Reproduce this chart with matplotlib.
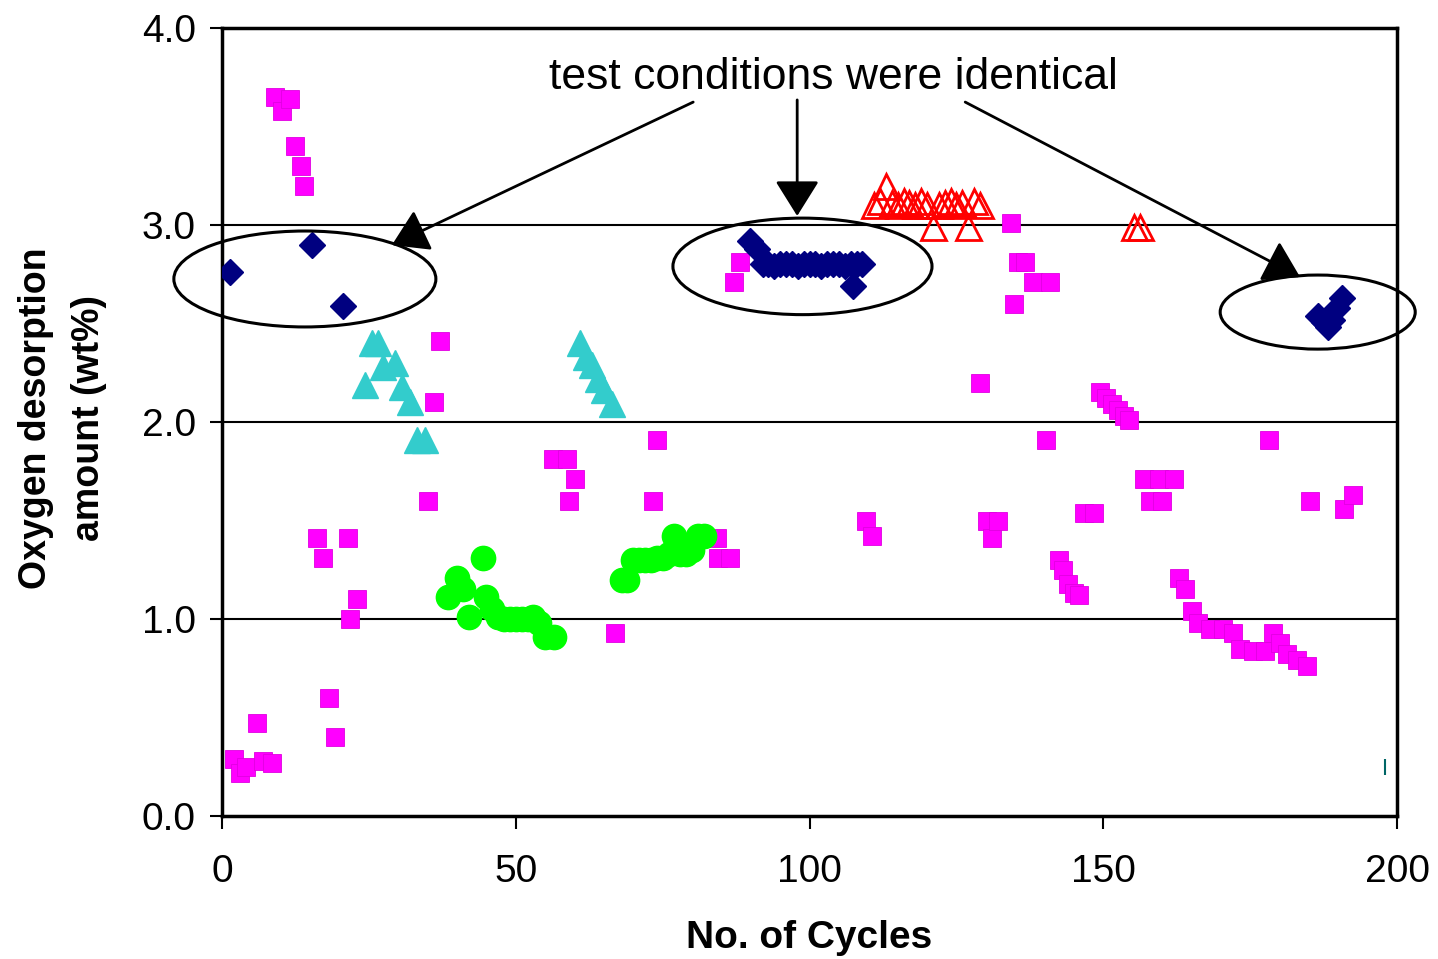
import numpy as np
import matplotlib
matplotlib.use("Agg")
import matplotlib.pyplot as plt
from matplotlib.patches import Ellipse

plt.rcParams['font.family'] = ['Liberation Sans', 'DejaVu Sans']

# magenta squares
mag_x = [2, 3, 4, 6, 7, 8.5,
         9, 10.2, 11.6, 12.4, 13.4, 14.0,
         16.2, 17.2, 18.2, 19.2, 21.5, 21.8, 23.0,
         35.1, 36.1, 37.1,
         56.3, 58.7, 59.1, 60.1, 66.9,
         73.3, 74.0, 84.3, 84.5, 86.5,
         87.1, 88.2, 109.6, 110.6,
         129.0, 130.2, 131.1, 132.1,
         134.3, 134.8, 135.5, 136.7, 138.0, 140.9, 140.3,
         142.5, 143.2, 144.0, 145.0, 145.8, 146.8, 148.5,
         149.5, 150.5, 151.5, 152.5, 153.5, 154.3,
         157, 159.5, 162, 158, 160,
         162.9, 163.9, 165.1, 166.1, 168.2, 170.4, 172.1, 173.3, 175.5, 177.5,
         178.2, 178.9, 180.1, 181.3, 183.0, 184.7,
         185.2, 191.0, 192.5]
mag_y = [0.29, 0.22, 0.25, 0.47, 0.28, 0.27,
         3.65, 3.58, 3.64, 3.40, 3.30, 3.20,
         1.41, 1.31, 0.60, 0.40, 1.41, 1.00, 1.10,
         1.60, 2.10, 2.41,
         1.81, 1.81, 1.60, 1.71, 0.93,
         1.60, 1.91, 1.41, 1.31, 1.31,
         2.71, 2.81, 1.50, 1.42,
         2.20, 1.50, 1.41, 1.50,
         3.01, 2.60, 2.81, 2.81, 2.71, 2.71, 1.91,
         1.30, 1.25, 1.18, 1.13, 1.12, 1.54, 1.54,
         2.15, 2.12, 2.09, 2.06, 2.03, 2.01,
         1.71, 1.71, 1.71, 1.60, 1.60,
         1.21, 1.15, 1.04, 0.98, 0.95, 0.95, 0.93, 0.85, 0.84, 0.84,
         1.91, 0.93, 0.88, 0.82, 0.79, 0.76,
         1.60, 1.56, 1.63]

# navy diamonds
navy_x = [1.4, 15.3, 20.6,
          89.9, 91.0, 92, 93, 94, 95, 96, 97, 98, 99, 100, 101, 102, 103, 104,
          105, 106, 107, 108, 109, 107.4,
          186.5, 187.5, 188.3, 189.0, 189.8, 190.6]
navy_y = [2.76, 2.90, 2.59,
          2.92, 2.88, 2.80, 2.80, 2.79, 2.80, 2.80, 2.80, 2.79, 2.80, 2.80, 2.80, 2.79, 2.80, 2.80,
          2.80, 2.79, 2.80, 2.80, 2.80, 2.69,
          2.54, 2.51, 2.48, 2.52, 2.58, 2.63]

# cyan triangles
cyan_x = [24.3, 25.5, 26.6, 27.4, 29.4, 30.6, 32.0, 33.2, 34.5,
          61, 62, 63, 64, 65, 66.3]
cyan_y = [2.19, 2.40, 2.40, 2.28, 2.30, 2.18, 2.10, 1.91, 1.91,
          2.40, 2.33, 2.29, 2.22, 2.16, 2.09]

# green circles
green_x = [38.5, 40, 41, 42, 44.4, 45, 46, 47, 48, 49, 50, 51, 52, 53, 54, 55, 56.5,
           68, 69, 70, 71, 72, 73, 74, 75, 76, 77, 78, 79, 80, 81, 82]
green_y = [1.11, 1.21, 1.15, 1.01, 1.31, 1.11, 1.05, 1.01, 1.00, 1.00, 1.00, 1.00, 1.00, 1.01, 0.98, 0.91, 0.91,
           1.20, 1.20, 1.30, 1.30, 1.30, 1.30, 1.31, 1.31, 1.33, 1.42, 1.33, 1.33, 1.35, 1.42, 1.42]

# red open triangles
red_x = [111, 112, 113, 114, 115, 116, 117, 118, 119, 120, 121, 122, 123, 124,
         125, 126, 127, 128, 129, 155.2, 156.2]
red_y = [3.10, 3.12, 3.20, 3.11, 3.10, 3.12, 3.11, 3.10, 3.12, 3.10, 2.99, 3.10, 3.11, 3.12,
         3.10, 3.11, 2.99, 3.12, 3.10, 2.99, 2.99]

# stray mark at right edge
teal_x = [198]
teal_y = [0.25]

fig = plt.figure(figsize=(14.38, 9.59), dpi=100)
ax = fig.add_axes([0.1544, 0.1491, 0.8171, 0.8217])

ax.plot(mag_x, mag_y, 's', color='#FF00FF', ms=13.5, mec='#E000E0', mew=0.6, zorder=3)
ax.plot(navy_x, navy_y, 'D', color='#000080', ms=13, mec='#000080', zorder=4)
ax.plot(cyan_x, cyan_y, '^', color='#33CCCC', ms=19, mec='#33CCCC', zorder=4)
ax.plot(green_x, green_y, 'o', color='#00FF00', ms=17.5, mec='#00FF00', zorder=4)
ax.plot(red_x, red_y, '^', mfc='none', mec='#FF0000', mew=2, ms=18, zorder=4)
ax.plot(teal_x, teal_y, '|', color='#006666', ms=12, mew=1.5, zorder=4)

# ellipses round the identical test conditions
for cx, cy, w, h in [(14.1, 2.726, 44.6, 0.487), (98.8, 2.79, 44.1, 0.49), (186.5, 2.558, 33.2, 0.376)]:
    ax.add_patch(Ellipse((cx, cy), w, h, fill=False, ec='black', lw=2.2, zorder=5, clip_on=False))

ax.text(104, 3.75, 'test conditions were identical', fontsize=32, ha='center', va='center', zorder=6)
arrows = [((80.2, 3.624), (28.9, 2.898)), ((97.9, 3.635), (97.9, 3.046)), ((126.5, 3.624), (183.5, 2.736))]
for start, end in arrows:
    ax.annotate('', xy=end, xytext=start,
                arrowprops=dict(arrowstyle='-|>,head_length=0.4,head_width=0.25',
                                mutation_scale=55, lw=2, color='black', shrinkA=0, shrinkB=0),
                zorder=6)

ax.set_xlim(0, 200)
ax.set_ylim(0, 4)
ax.set_xticks([0, 50, 100, 150, 200])
ax.set_yticks([0, 1, 2, 3, 4])
ax.set_yticklabels(['%.1f' % v for v in [0, 1, 2, 3, 4]])
ax.tick_params(direction='out', length=9, width=1.5, labelsize=28)
ax.tick_params(axis='y', pad=10)
ax.tick_params(axis='x', pad=18)
for y in [1, 2, 3]:
    ax.axhline(y, color='black', lw=1.5, zorder=1)
for s in ax.spines.values():
    s.set_linewidth(2.5)

ax.set_xlabel('No. of Cycles', fontsize=28, fontweight='bold', va='center')
ax.xaxis.set_label_coords(0.5, -0.155)
ax.set_ylabel('Oxygen desorption\namount (wt%)', fontsize=27, fontweight='bold',
              va='center', ha='center', linespacing=1.6)
ax.yaxis.set_label_coords(-0.136, 0.505)

fig.savefig('out.png', dpi=100)
